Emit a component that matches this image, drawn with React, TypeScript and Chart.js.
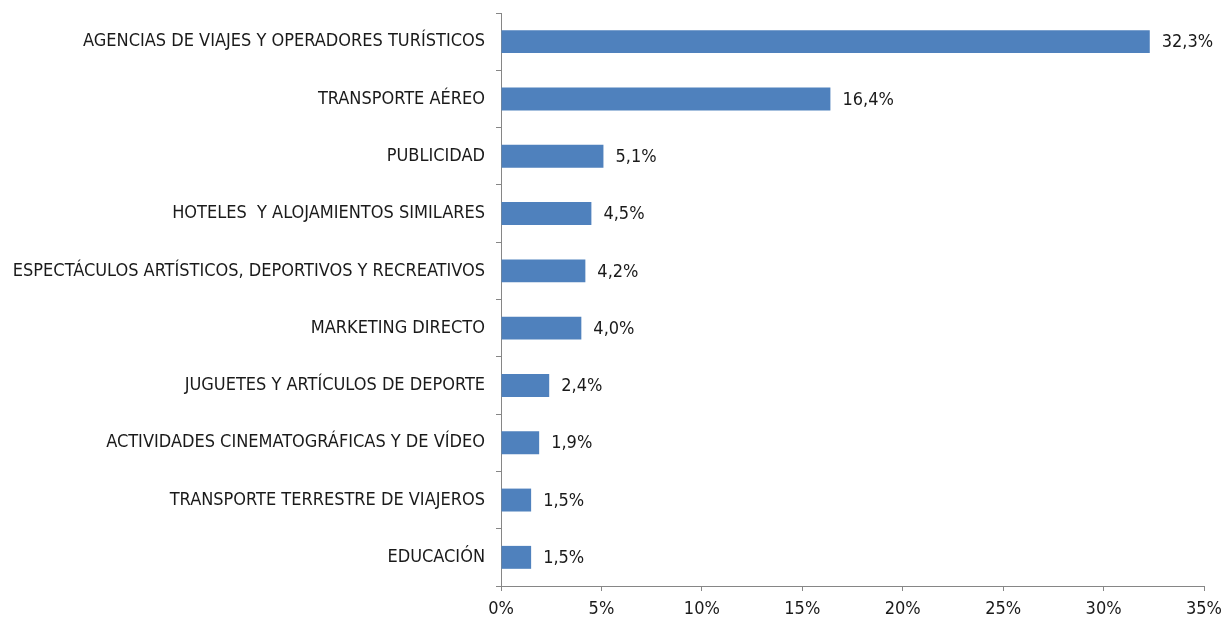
import React, { useEffect, useRef } from "react";
import { Chart, registerables } from "chart.js";

Chart.register(...registerables);

const categories = [
  "AGENCIAS DE VIAJES Y OPERADORES TURÍSTICOS",
  "TRANSPORTE AÉREO",
  "PUBLICIDAD",
  "HOTELES  Y ALOJAMIENTOS SIMILARES",
  "ESPECTÁCULOS ARTÍSTICOS, DEPORTIVOS Y RECREATIVOS",
  "MARKETING DIRECTO",
  "JUGUETES Y ARTÍCULOS DE DEPORTE",
  "ACTIVIDADES CINEMATOGRÁFICAS Y DE VÍDEO",
  "TRANSPORTE TERRESTRE DE VIAJEROS",
  "EDUCACIÓN",
];

const values = [32.3, 16.4, 5.1, 4.5, 4.2, 4.0, 2.4, 1.9, 1.5, 1.5];

const xTicks = [0, 5, 10, 15, 20, 25, 30, 35];

const FONT = "'Liberation Sans Narrow', 'DejaVu Sans Condensed', sans-serif";
const TEXT = "#1a1a1a";
const AXIS = "#868686";
const BAR = "#4F81BD";

const valueLabels = {
  id: "valueLabels",
  afterDatasetsDraw(chart: any) {
    const ctx = chart.ctx;
    const meta = chart.getDatasetMeta(0);
    ctx.save();
    ctx.font = `18px ${FONT}`;
    ctx.fillStyle = TEXT;
    ctx.textAlign = "left";
    ctx.textBaseline = "middle";
    meta.data.forEach((el: any, i: number) => {
      const v = values[i];
      ctx.fillText(v.toFixed(1).replace(".", ",") + "%", el.x + 12, el.y + 1);
    });
    ctx.restore();
  },
};

export default function App() {
  const ref = useRef<HTMLCanvasElement | null>(null);
  useEffect(() => {
    if (!ref.current) return;
    const chart = new Chart(ref.current, {
      type: "bar",
      data: {
        labels: categories,
        datasets: [
          {
            data: values,
            backgroundColor: BAR,
            borderWidth: 0,
            barPercentage: 0.4,
            categoryPercentage: 1,
          },
        ],
      },
      options: {
        indexAxis: "y",
        animation: false,
        responsive: false,
        maintainAspectRatio: false,
        layout: { padding: { top: 13, right: 21, left: 0, bottom: 0 } },
        plugins: {
          legend: { display: false },
          tooltip: { enabled: false },
        },
        scales: {
          x: {
            min: 0,
            max: 35,
            afterBuildTicks: (scale: any) => {
              scale.ticks = xTicks.map((v) => ({ value: v }));
            },
            afterFit: (scale: any) => {
              scale.height = 33;
              scale.paddingLeft = 0;
              scale.paddingRight = 0;
            },
            border: { display: true, color: AXIS, width: 1 },
            grid: {
              display: true,
              drawOnChartArea: false,
              drawTicks: true,
              tickLength: 5,
              color: AXIS,
            },
            ticks: {
              padding: 8,
              color: TEXT,
              font: { family: FONT, size: 18 },
              maxRotation: 0,
              callback: (v: any) => v + "%",
            },
          },
          y: {
            afterFit: (scale: any) => {
              scale.width = 501;
              scale.paddingTop = 0;
              scale.paddingBottom = 0;
            },
            border: { display: true, color: AXIS, width: 1 },
            grid: {
              display: true,
              drawOnChartArea: false,
              drawTicks: true,
              tickLength: 5,
              color: AXIS,
              offset: true,
            },
            ticks: {
              padding: 11,
              color: TEXT,
              font: { family: FONT, size: 18 },
              autoSkip: false,
            },
          },
        },
      },
      plugins: [valueLabels],
    });
    return () => chart.destroy();
  }, []);
  return (
    <div style={{ position: "fixed", left: 0, top: 0, width: 1225, height: 619, background: "#fff" }}>
      <canvas ref={ref} width={1225} height={619} style={{ display: "block" }} />
    </div>
  );
}
